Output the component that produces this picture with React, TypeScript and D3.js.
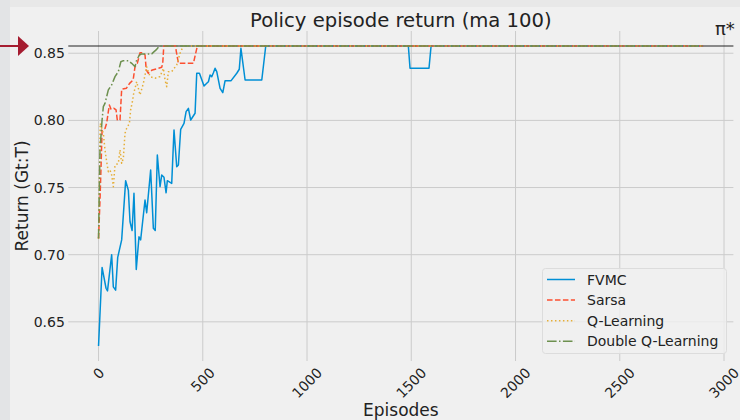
import React from "react";
import * as d3 from "d3";

// Moving-average (window 100) policy return per episode, as [episode, return] vertices
const fvmc: [number, number][] = [
  [0, 0.632], [17, 0.6905], [36, 0.675], [43, 0.673], [63, 0.7], [71, 0.676], [82, 0.6736],
  [92, 0.698], [111, 0.711], [130, 0.755], [143, 0.748], [151, 0.7245], [161, 0.718],
  [170, 0.7457], [181, 0.689], [194, 0.7133], [202, 0.711], [223, 0.7407], [231, 0.7312],
  [250, 0.763], [263, 0.7196], [272, 0.718], [282, 0.7742], [295, 0.7506], [303, 0.7593],
  [314, 0.7576], [324, 0.7461], [330, 0.7551], [351, 0.7531], [362, 0.7929], [375, 0.7655],
  [383, 0.7668], [394, 0.7934], [410, 0.7978], [420, 0.8065], [431, 0.809], [442, 0.8003],
  [463, 0.8053], [471, 0.8351], [484, 0.8351], [506, 0.8256], [519, 0.8276], [527, 0.8288],
  [535, 0.8338], [543, 0.8326], [551, 0.8355], [559, 0.8388], [567, 0.8363], [583, 0.8239],
  [596, 0.8206], [607, 0.8296], [636, 0.8296], [663, 0.8351], [675, 0.8381], [683, 0.8537],
  [703, 0.8301], [783, 0.8301], [802, 0.8554], [1486, 0.8554], [1494, 0.8388],
  [1585, 0.8388], [1595, 0.8554], [2900, 0.8554],
];

const sarsa: [number, number][] = [
  [0, 0.712], [7, 0.7407], [12, 0.7655], [17, 0.7929], [31, 0.794], [39, 0.7979],
  [47, 0.8065], [52, 0.8115], [60, 0.8083], [74, 0.809], [84, 0.8078], [90, 0.8003],
  [103, 0.8003], [111, 0.8232], [134, 0.824], [149, 0.8276], [166, 0.8301], [175, 0.84],
  [186, 0.8425], [199, 0.8504], [212, 0.8504], [223, 0.8487], [229, 0.8376], [239, 0.8351],
  [258, 0.8376], [288, 0.8388], [303, 0.8396], [308, 0.8425], [313, 0.8554], [370, 0.8554],
  [372, 0.8524], [383, 0.8425], [455, 0.8425], [474, 0.8554], [2900, 0.8554],
];

const qLearning: [number, number][] = [
  [0, 0.712], [8, 0.7978], [23, 0.7904], [31, 0.778], [39, 0.7692], [47, 0.7618],
  [55, 0.763], [63, 0.7593], [71, 0.7506], [79, 0.7667], [95, 0.768], [103, 0.778],
  [111, 0.768], [119, 0.7718], [127, 0.7904], [135, 0.7941], [148, 0.7978], [154, 0.8078],
  [164, 0.8152], [167, 0.819], [183, 0.8288], [199, 0.819], [215, 0.8276], [231, 0.84],
  [247, 0.8326], [271, 0.8314], [295, 0.8326], [311, 0.8388], [319, 0.8301], [327, 0.8251],
  [335, 0.8363], [351, 0.8363], [375, 0.8413], [391, 0.85], [407, 0.8554], [2900, 0.8554],
];

const doubleQ: [number, number][] = [
  [0, 0.712], [7, 0.778], [17, 0.8003], [23, 0.8102], [31, 0.8127], [39, 0.8177],
  [47, 0.8227], [63, 0.8264], [79, 0.8326], [95, 0.8363], [107, 0.8437], [119, 0.8445],
  [143, 0.8445], [159, 0.8425], [175, 0.84], [183, 0.845], [196, 0.8487], [207, 0.8495],
  [255, 0.8495], [276, 0.8525], [292, 0.8554], [2900, 0.8554],
];

// Return of the optimal policy
const optimalReturn = 0.8554;

const seriesNames = ["FVMC", "Sarsa", "Q-Learning", "Double Q-Learning"];
const seriesData = [fvmc, sarsa, qLearning, doubleQ];
const seriesColors = ["#008fd5", "#fc4f30", "#e5ae38", "#6d904f"];
const seriesDashes = ["none", "5.55,2.4", "1.5,2.48", "9.6,2.4,1.5,2.4"];

const xTicks = [0, 500, 1000, 1500, 2000, 2500, 3000];
const yTicks = [0.65, 0.7, 0.75, 0.8, 0.85];

const W = 740;
const H = 420;
const FONT = "'DejaVu Sans', sans-serif";
const BG = "#f0f0f0";

export default function App() {
  const left = 68.3, right = 733.4, top = 31, bottom = 361;

  const allPts = seriesData.flat();
  const xMax = d3.max(allPts, (d) => d[0]) as number;
  const xPad = xMax * 0.05;
  const yMin = d3.min(allPts, (d) => d[1]) as number;
  const yMax = Math.max(d3.max(allPts, (d) => d[1]) as number, optimalReturn);
  const yPad = (yMax - yMin) * 0.05;

  const x = d3.scaleLinear().domain([-xPad, xMax + xPad]).range([left, right]);
  const y = d3.scaleLinear().domain([yMin - yPad, yMax + yPad]).range([bottom, top]);

  const line = d3
    .line<[number, number]>()
    .x((d) => x(d[0]))
    .y((d) => y(d[1]));

  const tickFs = 14;
  const yOpt = y(optimalReturn);

  // legend geometry
  const lgX = 542.5, lgY = 268.5, lgW = 184, lgH = 85;

  return (
    <svg
      width={W}
      height={H}
      style={{ position: "absolute", left: 0, top: 0, display: "block" }}
      fontFamily={FONT}
    >
      <rect x={0} y={0} width={W} height={H} fill={BG} />
      <rect x={0} y={0} width={W} height={7} fill="#e8e8e8" />
      <rect x={0} y={0} width={10} height={H} fill="#e3e4e6" />

      {/* grid */}
      <g stroke="#cbcbcb" strokeWidth={1}>
        {xTicks.map((t) => (
          <line key={"gx" + t} x1={x(t)} x2={x(t)} y1={top} y2={bottom} />
        ))}
        {yTicks.map((t) => (
          <line key={"gy" + t} x1={left} x2={right} y1={y(t)} y2={y(t)} />
        ))}
      </g>

      {/* optimal policy reference */}
      <line x1={left} x2={right} y1={yOpt} y2={yOpt} stroke="#222" strokeWidth={1.1} />

      {/* series */}
      {seriesData.map((s, i) => (
        <path
          key={seriesNames[i]}
          d={line(s) ?? ""}
          fill="none"
          stroke={seriesColors[i]}
          strokeWidth={1.5}
          strokeDasharray={seriesDashes[i]}
          strokeLinejoin="round"
        />
      ))}

      {/* y tick labels */}
      {yTicks.map((t) => (
        <text
          key={"ty" + t}
          x={left - 3.5}
          y={y(t)}
          fontSize={tickFs}
          textAnchor="end"
          dominantBaseline="central"
          fill="#222"
        >
          {d3.format(".2f")(t)}
        </text>
      ))}

      {/* x tick labels, rotated 45 degrees */}
      {xTicks.map((t) => {
        const label = String(t);
        const w = label.length * 0.636 * tickFs;
        const h = 1.164 * tickFs;
        const box = (w + h) * Math.SQRT1_2;
        const cy = bottom + 3.5 + box / 2;
        return (
          <text
            key={"tx" + t}
            transform={`translate(${x(t)},${cy}) rotate(-45)`}
            fontSize={tickFs}
            textAnchor="middle"
            dominantBaseline="central"
            fill="#222"
          >
            {label}
          </text>
        );
      })}

      {/* titles */}
      <text x={(left + right) / 2} y={27} fontSize={19.6} textAnchor="middle" fill="#222">
        Policy episode return (ma 100)
      </text>
      <text x={(left + right) / 2} y={416} fontSize={17} textAnchor="middle" fill="#222">
        Episodes
      </text>
      <text
        transform={`translate(28,${(top + bottom) / 2}) rotate(-90)`}
        fontSize={17}
        textAnchor="middle"
        fill="#222"
      >
        Return (Gt:T)
      </text>

      {/* pi* marker */}
      <text x={715} y={35} fontSize={18} fill="#222">
        π*
      </text>

      {/* arrow pointing at the optimal return */}
      <g fill="#a51c30" stroke="none">
        <rect x={0} y={yOpt - 1} width={19} height={2} />
        <path d={`M18,${yOpt - 10} L29,${yOpt} L18,${yOpt + 10} Z`} />
      </g>

      {/* legend */}
      <g>
        <rect
          x={lgX}
          y={lgY}
          width={lgW}
          height={lgH}
          rx={3}
          fill={BG}
          fillOpacity={0.8}
          stroke="#dcdcdc"
          strokeWidth={1}
        />
        {seriesNames.map((name, i) => {
          const cy = 279.5 + i * 20.6;
          return (
            <g key={"lg" + name}>
              <line
                x1={547}
                x2={575}
                y1={cy}
                y2={cy}
                stroke={seriesColors[i]}
                strokeWidth={1.5}
                strokeDasharray={seriesDashes[i]}
              />
              <text x={587} y={cy} fontSize={14} dominantBaseline="central" fill="#222">
                {name}
              </text>
            </g>
          );
        })}
      </g>
    </svg>
  );
}
